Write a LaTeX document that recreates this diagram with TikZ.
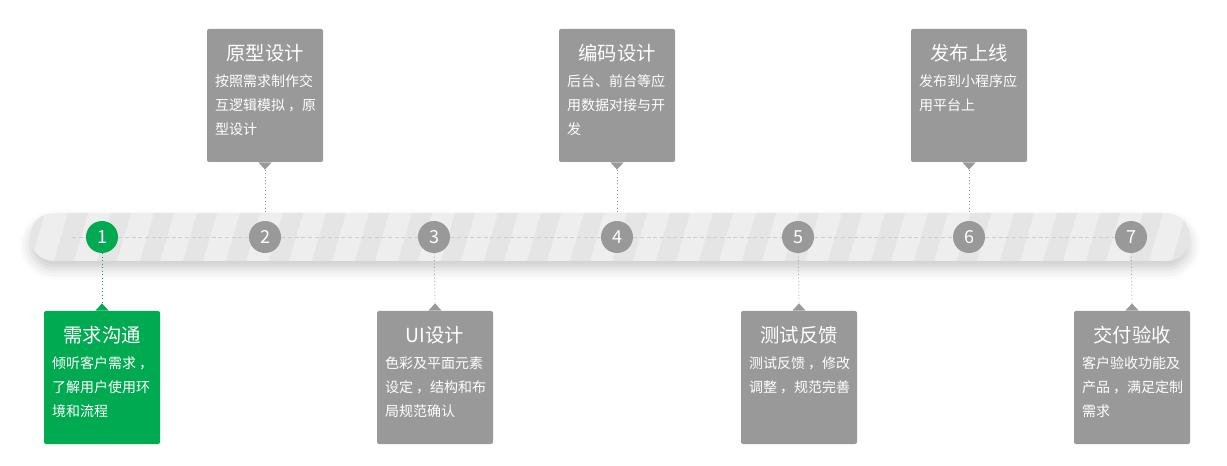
\documentclass[tikz,border=0pt]{standalone}
\usepackage{fontspec}
\setmainfont{Noto Sans CJK SC}
\usetikzlibrary{positioning,shadows.blur}

\definecolor{vert}{RGB}{0,170,80}
\definecolor{gris}{RGB}{153,153,153}
\definecolor{fond}{RGB}{238,238,238}
\definecolor{raie}{RGB}{229,229,229}
\definecolor{tiret}{RGB}{205,205,205}

\begin{document}
\begin{tikzpicture}[
    x=0.75pt, y=-0.75pt,
    etape/.style={
      fill=gris,
      rounded corners=1.5pt,
      minimum width=116*0.75pt,
      minimum height=133*0.75pt,
      inner sep=0pt
    },
    titre/.style={
      text=white,
      inner sep=0pt,
      font=\fontsize{14.5}{16}\selectfont
    },
    texte/.style={
      text=white,
      inner sep=0pt,
      anchor=north west,
      align=left,
      font=\fontsize{10.5}{18}\selectfont
    },
    pastille/.style={
      circle,
      fill=gris,
      minimum size=32*0.75pt,
      inner sep=0pt,
      text=white,
      font=\fontsize{13.5}{14}\selectfont
    },
    lien/.style={gris, dotted, line width=0.6pt},
    fleche/.style={fill=gris}
  ]
  \useasboundingbox (0,0) rectangle (1227,466);

  % la barre (rayures par rapport au centre)
  \node[fill=fond, rounded corners=18pt, minimum width=1160*0.75pt,
    minimum height=48*0.75pt, inner sep=0pt,
    blur shadow={shadow xshift=0pt, shadow yshift=-6pt,
      shadow blur radius=8pt, shadow opacity=20},
    path picture={
      \foreach \s in {0,...,28}
        \fill[raie, sharp corners] (\s*43-585,-24) -- ++(20,0) -- ++(-14,48) -- ++(-20,0) -- cycle;
    }] (barre) at (610,237) {};

  \coordinate (debut) at (72,237);

  % les pastilles
  \node[pastille, fill=vert] (p1) at (102,237) {1};
  \node[pastille] (p2) at (265,237) {2};
  \node[pastille] (p3) at (434,237) {3};
  \node[pastille] (p4) at (617,237) {4};
  \node[pastille] (p5) at (798,237) {5};
  \node[pastille] (p6) at (969,237) {6};
  \node[pastille] (p7) at (1131,237) {7};

  \draw[tiret, dash pattern=on 3pt off 2pt, line width=0.5pt] (debut) -- (p1);
  \foreach \a/\b in {1/2,2/3,3/4,4/5,5/6,6/7}
    \draw[tiret, dash pattern=on 3pt off 2pt, line width=0.5pt] (p\a) -- (p\b);

  % les etapes
  \node[etape, fill=vert] (e1) at (102,377.5) {};
  \node[etape] (e2) at (265,95.5) {};
  \node[etape] (e3) at (435,377.5) {};
  \node[etape] (e4) at (617,95.5) {};
  \node[etape] (e5) at (799,377.5) {};
  \node[etape] (e6) at (969,95.5) {};
  \node[etape] (e7) at (1132,377.5) {};

  \node[titre, below=11.5pt of e1.north] (t1) {需求沟通};
  \node[titre, below=11.5pt of e2.north] (t2) {原型设计};
  \node[titre, below=11.5pt of e3.north] (t3) {UI设计};
  \node[titre, below=11.5pt of e4.north] (t4) {编码设计};
  \node[titre, below=11.5pt of e5.north] (t5) {测试反馈};
  \node[titre, below=11.5pt of e6.north] (t6) {发布上线};
  \node[titre, below=11.5pt of e7.north] (t7) {交付验收};

  \node[texte] (c1) at ([xshift=6pt, yshift=-34.5pt]e1.north west) {倾听客户需求 ，\\了解用户使用环\\境和流程};
  \node[texte] (c2) at ([xshift=6pt, yshift=-34.5pt]e2.north west) {按照需求制作交\\互逻辑模拟 ，原\\型设计};
  \node[texte] (c3) at ([xshift=6pt, yshift=-34.5pt]e3.north west) {色彩及平面元素\\设定 ，结构和布\\局规范确认};
  \node[texte] (c4) at ([xshift=6pt, yshift=-34.5pt]e4.north west) {后台、前台等应\\用数据对接与开\\发};
  \node[texte] (c5) at ([xshift=6pt, yshift=-34.5pt]e5.north west) {测试反馈 ，修改\\调整 ，规范完善};
  \node[texte] (c6) at ([xshift=6pt, yshift=-34.5pt]e6.north west) {发布到小程序应\\用平台上};
  \node[texte] (c7) at ([xshift=6pt, yshift=-34.5pt]e7.north west) {客户验收功能及\\产品 ，满足定制\\需求};

  % les pointes
  \foreach \i in {2,4,6} {
    \fill[fleche] ([xshift=-5pt]e\i.south) -- ([yshift=-5.5pt]e\i.south) coordinate (bout\i)
      -- ([xshift=5pt]e\i.south) -- cycle;
    \draw[lien] (bout\i) -- (bout\i |- barre.north);
  }
  \fill[fill=vert] ([xshift=-5pt]e1.north) -- ([yshift=5.5pt]e1.north) coordinate (bout1)
    -- ([xshift=5pt]e1.north) -- cycle;
  \draw[lien, vert] (p1) -- (bout1);
  \foreach \i in {3,5,7} {
    \fill[fleche] ([xshift=-5pt]e\i.north) -- ([yshift=5.5pt]e\i.north) coordinate (bout\i)
      -- ([xshift=5pt]e\i.north) -- cycle;
    \draw[lien] (p\i) -- (bout\i);
  }
\end{tikzpicture}
\end{document}
